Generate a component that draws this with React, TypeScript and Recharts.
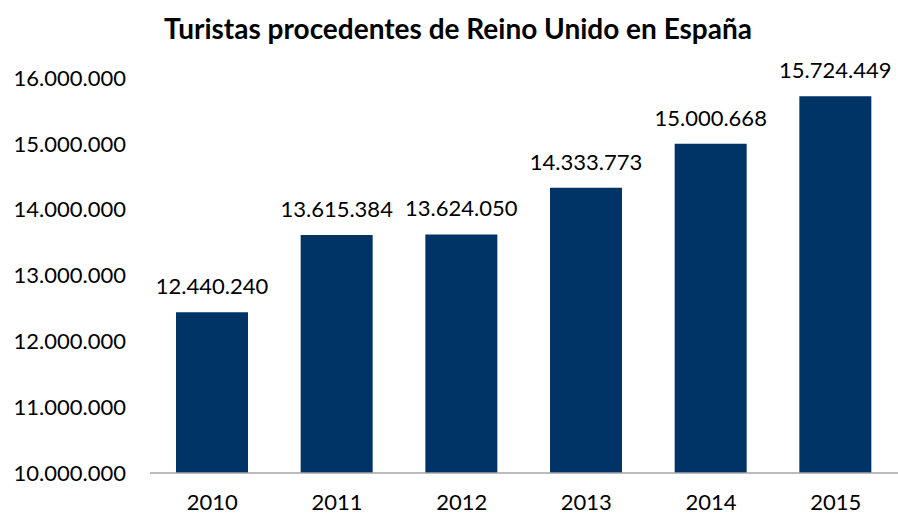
import { BarChart, Bar, XAxis, YAxis, LabelList } from "recharts";

const years = ["2010", "2011", "2012", "2013", "2014", "2015"];
const tourists = [12440240, 13615384, 13624050, 14333773, 15000668, 15724449];
const yTicks = [10000000, 11000000, 12000000, 13000000, 14000000, 15000000, 16000000];

const data = years.map((year, i) => ({ year, tourists: tourists[i] }));

const fmt = (v: number) => v.toLocaleString("de-DE");
const font = "Lato, 'Open Sans', sans-serif";

export default function App() {
  return (
    <div style={{ position: "absolute", left: 0, top: 0, width: 898, height: 516, background: "#fff" }}>
      <div
        style={{
          position: "absolute",
          left: 0,
          top: 10,
          width: 916,
          textAlign: "center",
          fontFamily: font,
          fontWeight: 700,
          fontSize: 28,
          lineHeight: "36px",
          color: "#000",
        }}
      >
        Turistas procedentes de Reino Unido en España
      </div>
      <BarChart
        width={898}
        height={516}
        data={data}
        margin={{ top: 78, right: 0, bottom: 13, left: 0 }}
      >
        <XAxis
          dataKey="year"
          height={30}
          tickLine={false}
          tickMargin={15}
          axisLine={{ stroke: "#a6a6a6", strokeWidth: 1.5 }}
          tick={{ fill: "#000", fontSize: 22, fontFamily: font }}
        />
        <YAxis
          width={150}
          domain={[10000000, 16000000]}
          ticks={yTicks}
          interval={0}
          tickFormatter={fmt}
          axisLine={false}
          tickLine={false}
          tickSize={0}
          tickMargin={24}
          tick={{ fill: "#000", fontSize: 22, fontFamily: font }}
        />
        <Bar dataKey="tourists" fill="#003366" barSize={72} isAnimationActive={false}>
          <LabelList
            dataKey="tourists"
            position="top"
            offset={18}
            formatter={(v: any) => fmt(Number(v))}
            style={{ fill: "#000", fontSize: 22, fontFamily: font }}
          />
        </Bar>
      </BarChart>
    </div>
  );
}
